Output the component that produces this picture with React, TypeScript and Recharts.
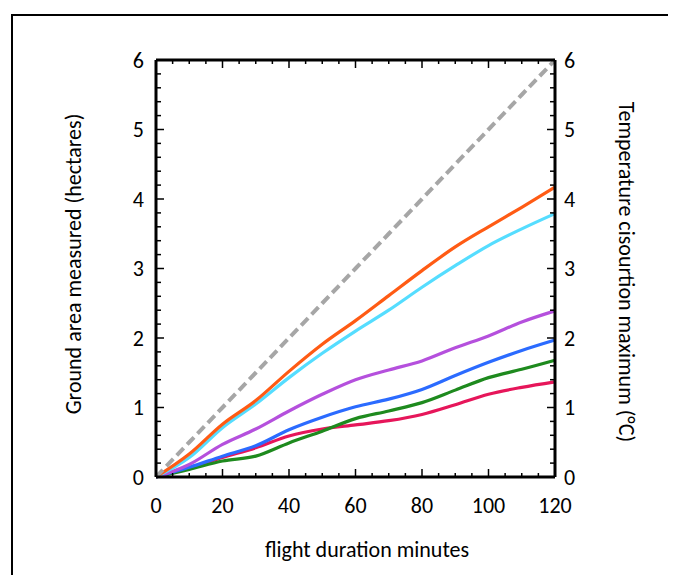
import React from 'react';
import { LineChart, Line, XAxis, YAxis, Label } from 'recharts';

// flight duration (minutes)
const minutes = [0, 10, 20, 30, 40, 50, 60, 70, 80, 90, 100, 110, 120];

// ground area measured, hectares
const dashedRef = [0, 0.5, 1.0, 1.5, 2.0, 2.5, 3.0, 3.5, 4.0, 4.5, 5.0, 5.5, 6.0];
const orangeSeries = [0, 0.33, 0.76, 1.1, 1.52, 1.91, 2.25, 2.61, 2.97, 3.31, 3.6, 3.88, 4.17];
const cyanSeries = [0, 0.28, 0.71, 1.05, 1.43, 1.78, 2.1, 2.4, 2.73, 3.04, 3.33, 3.57, 3.79];
const purpleSeries = [0, 0.18, 0.47, 0.69, 0.95, 1.19, 1.4, 1.54, 1.67, 1.86, 2.03, 2.23, 2.39];
const blueSeries = [0, 0.14, 0.3, 0.45, 0.68, 0.86, 1.01, 1.12, 1.26, 1.46, 1.65, 1.82, 1.97];
const greenSeries = [0, 0.11, 0.23, 0.3, 0.49, 0.66, 0.84, 0.95, 1.07, 1.25, 1.43, 1.55, 1.68];
const redSeries = [0, 0.13, 0.28, 0.42, 0.59, 0.69, 0.75, 0.81, 0.9, 1.04, 1.19, 1.29, 1.37];

const xTicks = [0, 5, 10, 15, 20, 25, 30, 35, 40, 45, 50, 55, 60, 65, 70, 75, 80, 85, 90, 95, 100, 105, 110, 115, 120];
const yTicks = [
  0, 0.2, 0.4, 0.6, 0.8, 1, 1.2, 1.4, 1.6, 1.8, 2, 2.2, 2.4, 2.6, 2.8, 3,
  3.2, 3.4, 3.6, 3.8, 4, 4.2, 4.4, 4.6, 4.8, 5, 5.2, 5.4, 5.6, 5.8, 6,
];

const data = minutes.map((m, i) => ({
  minutes: m,
  ref: dashedRef[i],
  orange: orangeSeries[i],
  cyan: cyanSeries[i],
  purple: purpleSeries[i],
  blue: blueSeries[i],
  green: greenSeries[i],
  red: redSeries[i],
}));

const FONT = 'Carlito, Calibri, Lato, sans-serif';

const isWhole = (v: number) => Math.abs(v - Math.round(v)) < 1e-6;

const XTick = ({ x, y, payload, top }: any) => {
  const v = payload.value;
  const len = v % 20 === 0 ? 8 : 4;
  return (
    <g>
      <line x1={x} y1={y} x2={x} y2={top ? y + len : y - len} stroke="#000" strokeWidth={1.5} />
      {!top && v % 20 === 0 && (
        <text x={x} y={y + 36} textAnchor="middle" fontSize={22} fontFamily={FONT} fill="#000">
          {v}
        </text>
      )}
    </g>
  );
};

const YTick = ({ x, y, payload, right }: any) => {
  const v = payload.value;
  const major = isWhole(v);
  const len = major ? 8 : 5;
  return (
    <g>
      <line x1={x} y1={y} x2={right ? x - len : x + len} y2={y} stroke="#000" strokeWidth={1.5} />
      {major && (
        <text
          x={right ? x + 9 : x - 12}
          y={y}
          dy="0.35em"
          textAnchor={right ? 'start' : 'end'}
          fontSize={22}
          fontFamily={FONT}
          fill="#000"
        >
          {Math.round(v)}
        </text>
      )}
    </g>
  );
};

const axisLine = { stroke: '#000', strokeWidth: 3 };

export default function App() {
  return (
    <div style={{ position: 'relative', width: 660, height: 567, overflow: 'hidden', background: '#fff' }}>
      <div
        style={{
          position: 'absolute',
          left: 3,
          top: 6,
          width: 700,
          height: 600,
          border: '2px solid #000',
        }}
      />
      <div style={{ position: 'absolute', left: 0, top: 0 }}>
        <LineChart width={660} height={567} data={data} margin={{ top: 50, right: 53, bottom: 38, left: 88 }}>
          <XAxis
            dataKey="minutes"
            type="number"
            domain={[0, 120]}
            ticks={xTicks}
            interval={0}
            height={60}
            axisLine={axisLine}
            tickLine={false}
            tickSize={0}
            tickMargin={0}
            tick={(p: any) => <XTick {...p} />}
          >
            <Label
              content={() => (
                <text x={359} y={541} textAnchor="middle" dy="0.35em" fontSize={22} fontFamily={FONT} fill="#000">
                  flight duration minutes
                </text>
              )}
            />
          </XAxis>
          <XAxis
            xAxisId="top"
            orientation="top"
            dataKey="minutes"
            type="number"
            domain={[0, 120]}
            ticks={xTicks}
            interval={0}
            height={2}
            axisLine={axisLine}
            tickLine={false}
            tickSize={0}
            tickMargin={0}
            tick={(p: any) => <XTick {...p} top />}
          />
          <YAxis
            type="number"
            domain={[0, 6]}
            ticks={yTicks}
            interval={0}
            width={60}
            axisLine={axisLine}
            tickLine={false}
            tickSize={0}
            tickMargin={0}
            tick={(p: any) => <YTick {...p} />}
          >
            <Label
              content={() => (
                <text
                  x={65}
                  y={256}
                  transform="rotate(-90 65 256)"
                  textAnchor="middle"
                  dy="0.35em"
                  fontSize={22}
                  fontFamily={FONT}
                  fill="#000"
                >
                  Ground area measured (hectares)
                </text>
              )}
            />
          </YAxis>
          <YAxis
            yAxisId="right"
            orientation="right"
            type="number"
            domain={[0, 6]}
            ticks={yTicks}
            interval={0}
            width={60}
            axisLine={axisLine}
            tickLine={false}
            tickSize={0}
            tickMargin={0}
            tick={(p: any) => <YTick {...p} right />}
          >
            <Label
              content={() => (
                <text
                  x={619}
                  y={264}
                  transform="rotate(90 619 264)"
                  textAnchor="middle"
                  dy="0.35em"
                  fontSize={22}
                  fontFamily={FONT}
                  fill="#000"
                >
                  Temperature cisourtion maximum (°C)
                </text>
              )}
            />
          </YAxis>
          <Line type="monotone" dataKey="red" stroke="#E6165A" strokeWidth={3.2} dot={false} isAnimationActive={false} />
          <Line type="monotone" dataKey="green" stroke="#1E8A1E" strokeWidth={3.2} dot={false} isAnimationActive={false} />
          <Line type="monotone" dataKey="blue" stroke="#2B6BFF" strokeWidth={3.2} dot={false} isAnimationActive={false} />
          <Line type="monotone" dataKey="purple" stroke="#B550DD" strokeWidth={3.2} dot={false} isAnimationActive={false} />
          <Line type="monotone" dataKey="cyan" stroke="#55DDFF" strokeWidth={3.2} dot={false} isAnimationActive={false} />
          <Line type="monotone" dataKey="orange" stroke="#FF5B14" strokeWidth={3.2} dot={false} isAnimationActive={false} />
          {/* 1:1 reference drawn on the secondary (top/right) axes, same 0-120 / 0-6 range */}
          <Line
            xAxisId="top"
            yAxisId="right"
            type="linear"
            dataKey="ref"
            stroke="#A6A6A6"
            strokeWidth={4}
            strokeDasharray="10 5"
            dot={false}
            isAnimationActive={false}
          />
        </LineChart>
      </div>
    </div>
  );
}
